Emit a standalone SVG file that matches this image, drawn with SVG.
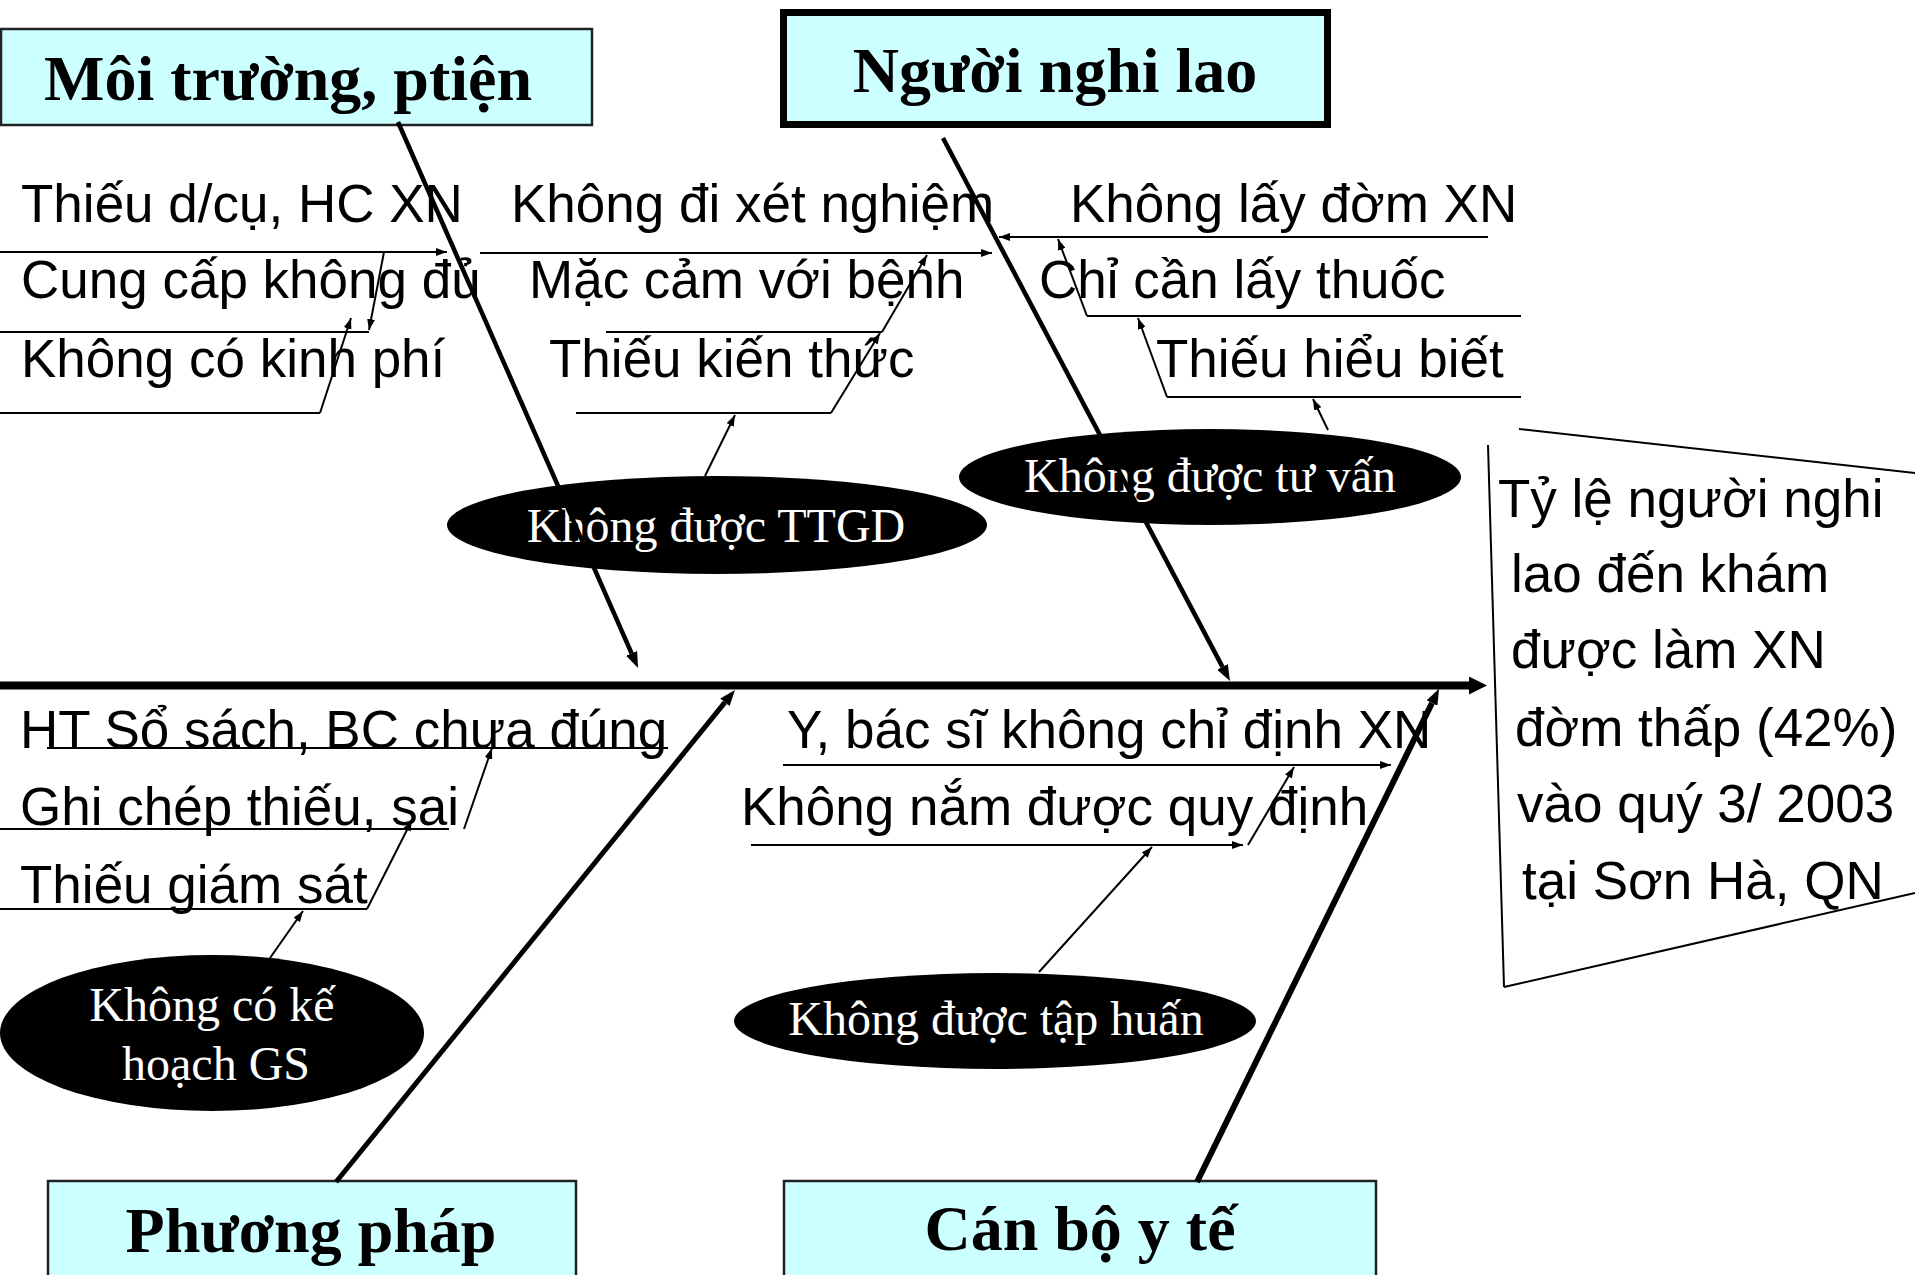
<svg xmlns="http://www.w3.org/2000/svg" width="1915" height="1275" viewBox="0 0 1915 1275">
<defs>
<style>
.box{fill:#CCFFFF;stroke:#222;stroke-width:2.5}
.boxb{fill:#CCFFFF;stroke:#000;stroke-width:7}
.title{font-family:"Liberation Serif","Times New Roman",serif;font-weight:bold;font-size:64px;fill:#000;text-anchor:middle}
.cause{font-family:"Liberation Sans",Arial,sans-serif;font-size:53px;fill:#000}
.ell{fill:#000}
.etext{font-family:"Liberation Serif","Times New Roman",serif;font-size:48px;fill:#fff;text-anchor:middle}
.sub{fill:none;stroke:#000;stroke-width:2}
.suba{fill:none;stroke:#000;stroke-width:2;marker-end:url(#sa)}
.bone{fill:none;stroke:#000;stroke-width:4.5;marker-end:url(#ba)}
.spine{fill:none;stroke:#000;stroke-width:8;marker-end:url(#spa)}
.res{fill:none;stroke:#000;stroke-width:2}
</style>
<marker id="sa" markerUnits="userSpaceOnUse" markerWidth="12" markerHeight="8" refX="11" refY="4" orient="auto"><path d="M0,0 L11,4 L0,8 z" fill="#000"/></marker>
<marker id="ba" markerUnits="userSpaceOnUse" markerWidth="17" markerHeight="12" refX="0" refY="6" orient="auto"><path d="M0,0 L16,6 L0,12 z" fill="#000"/></marker>
<marker id="spa" markerUnits="userSpaceOnUse" markerWidth="19" markerHeight="18" refX="0" refY="9" orient="auto"><path d="M0,0 L18,9 L0,18 z" fill="#000"/></marker>
</defs>
<rect x="0" y="0" width="1915" height="1275" fill="#fff"/>

<g id="box-moi-truong">
<rect class="box" x="1" y="29" width="591" height="96"/>
<text class="title" x="288" y="100">Môi trường, ptiện</text>
</g>
<g id="box-nguoi-nghi-lao">
<rect class="boxb" x="783.5" y="12.5" width="544" height="112"/>
<text class="title" x="1055" y="92">Người nghi lao</text>
</g>
<g id="box-phuong-phap">
<rect class="box" x="48" y="1181" width="528" height="110"/>
<text class="title" x="311" y="1252">Phương pháp</text>
</g>
<g id="box-can-bo-y-te">
<rect class="box" x="784" y="1181" width="592" height="110"/>
<text class="title" x="1080" y="1250">Cán bộ y tế</text>
</g>

<g id="causes-moi-truong">
<text class="cause" x="21" y="222">Thiếu d/cụ, HC XN</text>
<text class="cause" x="21" y="298">Cung cấp không đủ</text>
<text class="cause" x="21" y="377">Không có kinh phí</text>
</g>
<g id="causes-nguoi-nghi-lao-left">
<text class="cause" x="511" y="222">Không đi xét nghiệm</text>
<text class="cause" x="529" y="298">Mặc cảm với bệnh</text>
<text class="cause" x="549" y="377">Thiếu kiến thức</text>
</g>
<g id="causes-nguoi-nghi-lao-right">
<text class="cause" x="1070" y="222">Không lấy đờm XN</text>
<text class="cause" x="1039" y="298">Chỉ cần lấy thuốc</text>
<text class="cause" x="1156" y="377">Thiếu hiểu biết</text>
</g>
<g id="causes-phuong-phap">
<text class="cause" x="20" y="748">HT Sổ sách, BC chưa đúng</text>
<text class="cause" x="20" y="825">Ghi chép thiếu, sai</text>
<text class="cause" x="20" y="903">Thiếu giám sát</text>
</g>
<g id="causes-can-bo">
<text class="cause" x="787" y="748">Y, bác sĩ không chỉ định XN</text>
<text class="cause" x="741" y="825">Không nắm được quy định</text>
</g>

<g id="ell-ttgd">
<ellipse class="ell" cx="717" cy="525" rx="270" ry="49"/>
<text class="etext" x="716" y="542">Không được TTGD</text>
</g>
<g id="ell-tu-van">
<ellipse class="ell" cx="1210" cy="477" rx="251" ry="48"/>
<text class="etext" x="1210" y="492">Không được tư vấn</text>
</g>
<g id="ell-tap-huan">
<ellipse class="ell" cx="995" cy="1021" rx="261" ry="48"/>
<text class="etext" x="996" y="1035">Không được tập huấn</text>
</g>
<g id="ell-ke-hoach">
<ellipse class="ell" cx="212" cy="1033" rx="212" ry="78"/>
<text class="etext" x="212" y="1021">Không có kế</text>
<text class="etext" x="216" y="1080">hoạch GS</text>
</g>

<g id="effect">
<line class="res" x1="1519" y1="429" x2="1915" y2="473"/>
<line class="res" x1="1488" y1="445" x2="1504" y2="987"/>
<line class="res" x1="1504" y1="987" x2="1915" y2="893"/>
<text class="cause" x="1498" y="517">Tỷ lệ người nghi</text>
<text class="cause" x="1511" y="592">lao đến khám</text>
<text class="cause" x="1511" y="668">được làm XN</text>
<text class="cause" x="1515" y="746">đờm thấp (42%)</text>
<text class="cause" x="1517" y="822">vào quý 3/ 2003</text>
<text class="cause" x="1522" y="899">tại Sơn Hà, QN</text>
</g>

<g id="connectors">
<line class="spine" x1="0" y1="685.5" x2="1469" y2="685.5"/>
<line class="bone" x1="398" y1="122" x2="631.6" y2="653.3"/>
<line class="bone" x1="943" y1="138" x2="1222.5" y2="666.9"/>
<line class="bone" style="stroke-width:5" x1="336" y1="1182" x2="724.9" y2="702.4"/>
<line class="bone" style="stroke-width:6" x1="1197" y1="1182" x2="1432" y2="703"/>

<line class="suba" x1="0" y1="252" x2="447" y2="252"/>
<line class="sub" x1="0" y1="332" x2="369" y2="332"/>
<line class="suba" x1="384" y1="252" x2="369" y2="330"/>
<line class="sub" x1="0" y1="413" x2="320" y2="413"/>
<line class="suba" x1="320" y1="413" x2="351" y2="318"/>

<line class="suba" x1="480" y1="253" x2="992" y2="253"/>
<line class="sub" x1="606" y1="332" x2="882" y2="332"/>
<line class="suba" x1="831" y1="413" x2="880" y2="333"/>
<line class="suba" x1="882" y1="332" x2="927" y2="255"/>
<line class="sub" x1="576" y1="413" x2="831" y2="413"/>
<line class="suba" x1="705" y1="476" x2="735" y2="415"/>

<line class="suba" x1="1488" y1="237" x2="999" y2="237"/>
<line class="sub" x1="1087" y1="316" x2="1521" y2="316"/>
<line class="suba" x1="1087" y1="316" x2="1058" y2="239"/>
<line class="sub" x1="1167" y1="397" x2="1521" y2="397"/>
<line class="suba" x1="1167" y1="397" x2="1138" y2="318"/>
<line class="suba" x1="1328" y1="430" x2="1313" y2="399"/>

<line class="sub" x1="47" y1="748" x2="668" y2="748"/>
<line class="sub" x1="0" y1="829" x2="449" y2="829"/>
<line class="suba" x1="464" y1="829" x2="492" y2="748"/>
<line class="sub" x1="0" y1="909" x2="367" y2="909"/>
<line class="suba" x1="367" y1="909" x2="412" y2="820"/>
<line class="suba" x1="270" y1="958" x2="303" y2="911"/>

<line class="suba" x1="783" y1="765" x2="1391" y2="765"/>
<line class="suba" x1="751" y1="845" x2="1243" y2="845"/>
<line class="suba" x1="1248" y1="845" x2="1294" y2="767"/>
<line class="suba" x1="1039" y1="972" x2="1152" y2="847"/>
</g>
</svg>
